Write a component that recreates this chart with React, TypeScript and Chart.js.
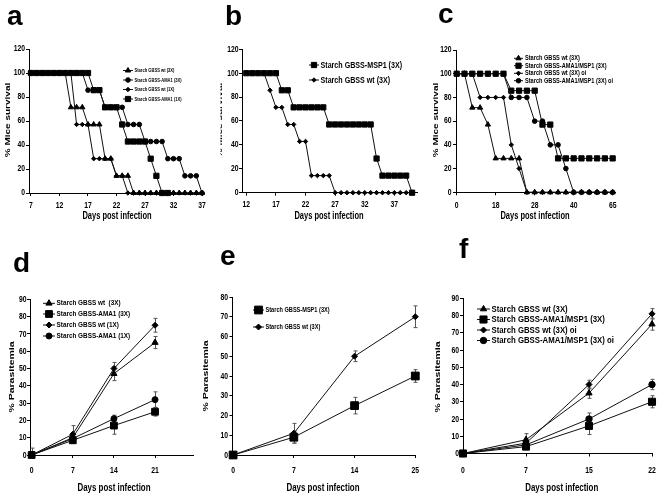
import React, { useEffect, useRef } from "react";
import { Chart, registerables } from "chart.js";

Chart.register(...registerables);

const W = 661;
const H = 496;
const TL = 3;
const FONT = '"Liberation Sans", Arial, Helvetica, sans-serif';

// ---------------- Panel a: survival ----------------
const aDays = [7, 8, 9, 10, 11, 12, 13, 14, 15, 16, 17, 18, 19, 20, 21, 22, 23, 24, 25, 26, 27, 28, 29, 30, 31, 32, 33, 34, 35, 36, 37];
const aLabels = ["Starch GBSS wt (3X)", "Starch GBSS-AMA1 (3X)", "Starch GBSS wt (1X)", "Starch GBSS-AMA1 (1X)"];
const aWt3X = [100, 100, 100, 100, 100, 100, 100, 71.4, 71.4, 71.4, 57.1, 57.1, 57.1, 28.6, 28.6, 14.3, 14.3, 14.3, 0, 0, 0, 0, 0, 0, 0, 0, 0, 0, 0, 0, 0];
const aAma13X = [100, 100, 100, 100, 100, 100, 100, 100, 100, 100, 85.7, 85.7, 85.7, 71.4, 71.4, 71.4, 71.4, 57.1, 57.1, 57.1, 42.9, 42.9, 42.9, 42.9, 28.6, 28.6, 28.6, 14.3, 14.3, 14.3, 0];
const aWt1X = [100, 100, 100, 100, 100, 100, 100, 100, 57.1, 57.1, 57.1, 28.6, 28.6, 28.6, 28.6, 14.3, 14.3, 0, 0, 0, 0, 0, 0, 0, 0, 0, 0, 0, 0, 0, 0];
const aAma11X = [100, 100, 100, 100, 100, 100, 100, 100, 100, 100, 100, 85.7, 85.7, 71.4, 71.4, 71.4, 57.1, 42.9, 42.9, 42.9, 42.9, 28.6, 14.3, 0, 0, null, null, null, null, null, null];
const aXTicks = [7, 12, 17, 22, 27, 32, 37];
const survivalYTicks = [0, 20, 40, 60, 80, 100, 120];

// ---------------- Panel b: survival ----------------
const bDays = [12, 13, 14, 15, 16, 17, 18, 19, 20, 21, 22, 23, 24, 25, 26, 27, 28, 29, 30, 31, 32, 33, 34, 35, 36, 37, 38, 39, 40];
const bLabels = ["Starch GBSS-MSP1 (3X)", "Starch GBSS wt (3X)"];
const bMsp1 = [100, 100, 100, 100, 100, 100, 85.7, 85.7, 71.4, 71.4, 71.4, 71.4, 71.4, 71.4, 57.1, 57.1, 57.1, 57.1, 57.1, 57.1, 57.1, 57.1, 28.6, 14.3, 14.3, 14.3, 14.3, 14.3, 0];
const bWt = [100, 100, 100, 100, 85.7, 71.4, 71.4, 57.1, 57.1, 42.9, 42.9, 14.3, 14.3, 14.3, 14.3, 0, 0, 0, 0, 0, 0, 0, 0, 0, 0, 0, 0, 0, 0];
const bXTicks = [12, 17, 22, 27, 32, 37];

// ---------------- Panel c: survival ----------------
const cIndex = [0, 1, 2, 3, 4, 5, 6, 7, 8, 9, 10, 11, 12, 13, 14, 15, 16, 17, 18, 19, 20];
const cTickIndex = [0, 5, 10, 15, 20];
const cTickLabels = ["0", "18", "28", "40", "65"];
const cLabels = ["Starch GBSS wt (3X)", "Starch GBSS-AMA1/MSP1 (3X)", "Starch GBSS wt (3X) oi", "Starch GBSS-AMA1/MSP1 (3X) oi"];
const cWt3X = [100, 100, 71.4, 71.4, 57.1, 28.6, 28.6, 28.6, 28.6, 0, 0, 0, 0, 0, 0, 0, 0, 0, 0, 0, 0];
const cAmaMsp3X = [100, 100, 100, 100, 100, 100, 100, 85.7, 85.7, 85.7, 85.7, 57.1, 57.1, 28.6, 28.6, 28.6, 28.6, 28.6, 28.6, 28.6, 28.6];
const cWtOi = [100, 100, 100, 80, 80, 80, 80, 40, 20, 0, 0, 0, 0, 0, 0, 0, 0, 0, 0, 0, 0];
const cAmaMspOi = [100, 100, 100, 100, 100, 100, 100, 80, 80, 80, 60, 60, 40, 40, 20, 0, 0, 0, 0, 0, 0];

// ---------------- Panel d: parasitemia ----------------
const dCats = ["0", "7", "14", "21"];
const dLabels = ["Starch GBSS wt  (3X)", "Starch GBSS-AMA1 (3X)", "Starch GBSS wt (1X)", "Starch GBSS-AMA1 (1X)"];
const dWt3X = [0, 10, 47, 65];
const dWt3XErr = [1, 2, 4, 3.5];
const dAma3X = [0, 8.5, 17, 25];
const dAma3XErr = [1, 1.5, 5, 2.5];
const dWt1X = [0, 12, 50, 75];
const dWt1XErr = [4, 5, 3.5, 4];
const dAma1X = [0, 9.5, 21, 32];
const dAma1XErr = [1, 2, 2, 4.5];

// ---------------- Panel e: parasitemia ----------------
const eCats = ["0", "7", "14", "25"];
const eLabels = ["Starch GBSS-MSP1 (3X)", "Starch GBSS wt (3X)"];
const eMsp1 = [0, 9, 25, 40];
const eMsp1Err = [1, 3, 4.2, 3.2];
const eWt = [0, 11, 50, 70];
const eWtErr = [1, 5, 2.7, 5.5];

// ---------------- Panel f: parasitemia ----------------
const fCats = ["0", "7", "15", "22"];
const fLabels = ["Starch GBSS wt (3X)", "Starch GBSS-AMA1/MSP1 (3X)", "Starch GBSS wt (3X) oi", "Starch GBSS-AMA1/MSP1 (3X) oi"];
const fWt3X = [0, 8, 35, 75];
const fWt3XErr = [1, 3.5, 3, 3.5];
const fAmaMsp3X = [0, 4, 16, 30];
const fAmaMsp3XErr = [1, 1.5, 5, 3.5];
const fWtOi = [0, 6, 40, 81];
const fWtOiErr = [0.5, 2, 2.5, 3];
const fAmaMspOi = [0, 5, 20, 40];
const fAmaMspOiErr = [0.5, 1.5, 3.5, 3];

const catIdx = [0, 1, 2, 3];
const d90Ticks = [0, 10, 20, 30, 40, 50, 60, 70, 80, 90];
const e80Ticks = [0, 10, 20, 30, 40, 50, 60, 70, 80];

// ---------------- types / helpers ----------------
type Txt = {
  s: string; x: number; y: number; size: number; k?: number; bold?: boolean;
  align?: CanvasTextAlign; rot?: boolean; clipLeft?: number; baseline?: CanvasTextBaseline;
};
type Series = { label: string; xs: number[]; ys: (number | null)[]; style: string; r: number; err?: number[] };
type Spec = {
  area: { l: number; t: number; r: number; b: number };
  x: { min: number; max: number; ticks: number[]; labels: string[]; labelY: number };
  y: { min: number; max: number; ticks: number[]; labelRight: number };
  tick: { size: number; k: number };
  series: Series[];
  legend: { x0: number; x1: number; tx: number; rows: number[]; size: number; k: number };
  texts: Txt[];
};

function drawText(ctx: CanvasRenderingContext2D, t: Txt) {
  ctx.save();
  if (t.clipLeft !== undefined) {
    ctx.beginPath();
    ctx.rect(t.clipLeft, 0, W, H);
    ctx.clip();
  }
  ctx.translate(t.x, t.y);
  const k = t.k ?? 1;
  if (t.rot) {
    ctx.rotate(-Math.PI / 2);
    ctx.scale(1, k);
  } else {
    ctx.scale(k, 1);
  }
  ctx.font = `${t.bold === false ? "" : "bold "}${t.size}px ${FONT}`;
  ctx.fillStyle = "#000";
  ctx.textAlign = t.align ?? "center";
  ctx.textBaseline = t.baseline ?? "middle";
  ctx.fillText(t.s, 0, 0);
  ctx.restore();
}

function drawMarker(ctx: CanvasRenderingContext2D, style: string, x: number, y: number, r: number) {
  ctx.beginPath();
  if (style === "circle") {
    ctx.arc(x, y, r, 0, Math.PI * 2);
  } else if (style === "rect") {
    const s = r * Math.SQRT1_2;
    ctx.rect(x - s, y - s, 2 * s, 2 * s);
  } else if (style === "rectRot") {
    ctx.moveTo(x - r, y);
    ctx.lineTo(x, y - r);
    ctx.lineTo(x + r, y);
    ctx.lineTo(x, y + r);
    ctx.closePath();
  } else {
    ctx.moveTo(x, y - r);
    ctx.lineTo(x + 0.866 * r, y + 0.5 * r);
    ctx.lineTo(x - 0.866 * r, y + 0.5 * r);
    ctx.closePath();
  }
  ctx.fill();
  ctx.stroke();
}

function buildChart(canvas: HTMLCanvasElement, spec: Spec) {
  const datasets = spec.series.map((s, i) => ({
    label: s.label,
    data: s.xs.map((x, j) => ({ x, y: s.ys[j] })),
    borderColor: "#111",
    backgroundColor: "#000",
    borderWidth: 1,
    pointStyle: s.style,
    pointRadius: s.r,
    pointBackgroundColor: "#000",
    pointBorderColor: "#000",
    pointBorderWidth: 1,
    tension: 0,
    clip: false,
    order: -i,
  }));

  const deco = {
    id: "deco",
    beforeDatasetsDraw(chart: any) {
      const ctx: CanvasRenderingContext2D = chart.ctx;
      const xs = chart.scales.x;
      const ys = chart.scales.y;
      ctx.save();
      ctx.strokeStyle = "#555";
      ctx.lineWidth = 1;
      spec.series.forEach((s) => {
        if (!s.err) return;
        s.xs.forEach((xv, j) => {
          const v = s.ys[j];
          const e = s.err![j];
          if (v === null || !e) return;
          const px = Math.round(xs.getPixelForValue(xv)) + 0.5;
          const top = ys.getPixelForValue(v + e);
          const lowV = v - e;
          const bot = ys.getPixelForValue(Math.max(spec.y.min, lowV));
          ctx.beginPath();
          ctx.moveTo(px, top);
          ctx.lineTo(px, bot);
          ctx.moveTo(px - 2, top);
          ctx.lineTo(px + 2, top);
          if (lowV >= spec.y.min) {
            ctx.moveTo(px - 2, bot);
            ctx.lineTo(px + 2, bot);
          }
          ctx.stroke();
        });
      });
      ctx.restore();
    },
    afterDraw(chart: any) {
      const ctx: CanvasRenderingContext2D = chart.ctx;
      const xs = chart.scales.x;
      const ys = chart.scales.y;
      spec.x.ticks.forEach((v, i) => {
        drawText(ctx, { s: spec.x.labels[i], x: xs.getPixelForValue(v), y: spec.x.labelY, size: spec.tick.size, k: spec.tick.k });
      });
      spec.y.ticks.forEach((v) => {
        drawText(ctx, { s: String(v), x: spec.y.labelRight, y: ys.getPixelForValue(v), size: spec.tick.size, k: spec.tick.k, align: "right" });
      });
      const lg = spec.legend;
      spec.series.forEach((s, i) => {
        const y = lg.rows[i];
        ctx.save();
        ctx.strokeStyle = "#111";
        ctx.lineWidth = 1;
        ctx.beginPath();
        ctx.moveTo(lg.x0, y);
        ctx.lineTo(lg.x1, y);
        ctx.stroke();
        ctx.fillStyle = "#000";
        ctx.strokeStyle = "#000";
        drawMarker(ctx, s.style, (lg.x0 + lg.x1) / 2, y, s.r);
        ctx.restore();
        drawText(ctx, { s: s.label, x: lg.tx, y, size: lg.size, k: lg.k, align: "left" });
      });
      spec.texts.forEach((t) => drawText(ctx, t));
    },
  };

  const a = spec.area;
  return new Chart(canvas, {
    type: "line",
    data: { datasets: datasets as any },
    options: {
      animation: false,
      responsive: false,
      maintainAspectRatio: false,
      devicePixelRatio: 1,
      events: [],
      layout: { padding: { left: a.l - TL, top: a.t, right: W - a.r, bottom: H - a.b - TL } },
      plugins: { legend: { display: false }, tooltip: { enabled: false }, title: { display: false } },
      scales: {
        x: {
          type: "linear",
          min: spec.x.min,
          max: spec.x.max,
          grid: { display: true, drawOnChartArea: false, drawTicks: true, tickLength: TL, color: "#000", lineWidth: 1 },
          border: { display: true, color: "#000", width: 1 },
          ticks: { display: false },
          afterBuildTicks: (s: any) => {
            s.ticks = spec.x.ticks.map((v) => ({ value: v }));
          },
          afterFit: (s: any) => {
            s.height = TL;
          },
        },
        y: {
          type: "linear",
          min: spec.y.min,
          max: spec.y.max,
          grid: { display: true, drawOnChartArea: false, drawTicks: true, tickLength: TL, color: "#000", lineWidth: 1 },
          border: { display: true, color: "#000", width: 1 },
          ticks: { display: false },
          afterBuildTicks: (s: any) => {
            s.ticks = spec.y.ticks.map((v) => ({ value: v }));
          },
          afterFit: (s: any) => {
            s.width = TL;
          },
        },
      } as any,
    },
    plugins: [deco],
  });
}

// ---------------- specs ----------------
const letter = (s: string, x: number, y: number): Txt => ({ s, x, y, size: 28, k: 1, align: "left", baseline: "alphabetic" });

const specA: Spec = {
  area: { l: 29, t: 49, r: 204, b: 193 },
  x: { min: 6.65, max: 37.35, ticks: aXTicks, labels: aXTicks.map(String), labelY: 206 },
  y: { min: 0, max: 120, ticks: survivalYTicks, labelRight: 25 },
  tick: { size: 8.5, k: 0.8 },
  series: [
    { label: aLabels[0], xs: aDays, ys: aWt3X, style: "triangle", r: 3 },
    { label: aLabels[1], xs: aDays, ys: aAma13X, style: "circle", r: 2.3 },
    { label: aLabels[2], xs: aDays, ys: aWt1X, style: "rectRot", r: 2.2 },
    { label: aLabels[3], xs: aDays, ys: aAma11X, style: "rect", r: 3.7 },
  ],
  legend: { x0: 123, x1: 133, tx: 134.5, rows: [70.5, 80, 89.5, 99], size: 6, k: 0.68 },
  texts: [
    letter("a", 7, 25),
    { s: "% Mice survival", x: 8, y: 120, size: 10, k: 0.75, rot: true },
    { s: "Days post infection", x: 117, y: 216, size: 10, k: 0.75 },
  ],
};

const specB: Spec = {
  area: { l: 242, t: 49.3, r: 417, b: 192.7 },
  x: { min: 11.27, max: 40.83, ticks: bXTicks, labels: bXTicks.map(String), labelY: 205 },
  y: { min: 0, max: 120, ticks: survivalYTicks, labelRight: 238.5 },
  tick: { size: 8.5, k: 0.8 },
  series: [
    { label: bLabels[0], xs: bDays, ys: bMsp1, style: "rect", r: 3.7 },
    { label: bLabels[1], xs: bDays, ys: bWt, style: "rectRot", r: 2.2 },
  ],
  legend: { x0: 309, x1: 319, tx: 320.5, rows: [65, 80], size: 9.5, k: 0.75 },
  texts: [
    letter("b", 225, 25),
    { s: "% Mice survival", x: 220, y: 120, size: 10, k: 0.75, rot: true, clipLeft: 220.5 },
    { s: "Days post infection", x: 329, y: 216, size: 10, k: 0.75 },
  ],
};

const specC: Spec = {
  area: { l: 456, t: 50, r: 615, b: 192.3 },
  x: { min: -0.09, max: 20.3, ticks: cTickIndex, labels: cTickLabels, labelY: 205.7 },
  y: { min: 0, max: 120, ticks: survivalYTicks, labelRight: 451.5 },
  tick: { size: 8.5, k: 0.8 },
  series: [
    { label: cLabels[0], xs: cIndex, ys: cWt3X, style: "triangle", r: 3 },
    { label: cLabels[1], xs: cIndex, ys: cAmaMsp3X, style: "rect", r: 3.7 },
    { label: cLabels[2], xs: cIndex, ys: cWtOi, style: "rectRot", r: 2.2 },
    { label: cLabels[3], xs: cIndex, ys: cAmaMspOi, style: "circle", r: 2.3 },
  ],
  legend: { x0: 514, x1: 523, tx: 525, rows: [58.3, 65.7, 73.3, 80.7], size: 7, k: 0.8 },
  texts: [
    letter("c", 438, 23),
    { s: "% Mice survival", x: 436, y: 120, size: 10, k: 0.75, rot: true },
    { s: "Days post infection", x: 535, y: 216, size: 10, k: 0.75 },
  ],
};

const specD: Spec = {
  area: { l: 30, t: 299.3, r: 193.3, b: 455 },
  x: { min: -0.04, max: 3.93, ticks: catIdx, labels: dCats, labelY: 470 },
  y: { min: 0, max: 90, ticks: d90Ticks, labelRight: 26.5 },
  tick: { size: 9.5, k: 0.72 },
  series: [
    { label: dLabels[0], xs: catIdx, ys: dWt3X, style: "triangle", r: 3.6, err: dWt3XErr },
    { label: dLabels[1], xs: catIdx, ys: dAma3X, style: "rect", r: 4.8, err: dAma3XErr },
    { label: dLabels[2], xs: catIdx, ys: dWt1X, style: "rectRot", r: 3, err: dWt1XErr },
    { label: dLabels[3], xs: catIdx, ys: dAma1X, style: "circle", r: 3, err: dAma1XErr },
  ],
  legend: { x0: 43, x1: 55, tx: 56.5, rows: [303.3, 314, 325, 336], size: 7.5, k: 0.85 },
  texts: [
    letter("d", 13, 272),
    { s: "% Parasitemia", x: 12, y: 377, size: 10.5, k: 0.7, rot: true },
    { s: "Days post infection", x: 114, y: 488, size: 11, k: 0.72 },
  ],
};

const specE: Spec = {
  area: { l: 232.5, t: 297, r: 415.3, b: 455 },
  x: { min: -0.01, max: 3.0, ticks: catIdx, labels: eCats, labelY: 470 },
  y: { min: 0, max: 80, ticks: e80Ticks, labelRight: 228 },
  tick: { size: 9.5, k: 0.72 },
  series: [
    { label: eLabels[0], xs: catIdx, ys: eMsp1, style: "rect", r: 5.5, err: eMsp1Err },
    { label: eLabels[1], xs: catIdx, ys: eWt, style: "rectRot", r: 3, err: eWtErr },
  ],
  legend: { x0: 253, x1: 264, tx: 265.5, rows: [310, 327], size: 7, k: 0.8 },
  texts: [
    letter("e", 220, 265),
    { s: "% Parasitemia", x: 206, y: 376, size: 10.5, k: 0.7, rot: true },
    { s: "Days post infection", x: 323, y: 488, size: 11, k: 0.72 },
  ],
};

const specF: Spec = {
  area: { l: 463, t: 298.3, r: 652, b: 453.5 },
  x: { min: 0, max: 3.0, ticks: catIdx, labels: fCats, labelY: 470 },
  y: { min: 0, max: 90, ticks: d90Ticks, labelRight: 459 },
  tick: { size: 9.5, k: 0.72 },
  series: [
    { label: fLabels[0], xs: catIdx, ys: fWt3X, style: "triangle", r: 3.6, err: fWt3XErr },
    { label: fLabels[1], xs: catIdx, ys: fAmaMsp3X, style: "rect", r: 5, err: fAmaMsp3XErr },
    { label: fLabels[2], xs: catIdx, ys: fWtOi, style: "rectRot", r: 3, err: fWtOiErr },
    { label: fLabels[3], xs: catIdx, ys: fAmaMspOi, style: "circle", r: 3.2, err: fAmaMspOiErr },
  ],
  legend: { x0: 477, x1: 490, tx: 491.5, rows: [309, 319.5, 330, 340.5], size: 9.5, k: 0.82 },
  texts: [
    letter("f", 459, 258),
    { s: "% Parasitemia", x: 438, y: 377, size: 10.5, k: 0.7, rot: true },
    { s: "Days post infection", x: 561.7, y: 488, size: 11, k: 0.72 },
  ],
};

const specs: Spec[] = [specA, specB, specC, specD, specE, specF];

function PanelChart({ spec }: { spec: Spec }) {
  const ref = useRef<HTMLCanvasElement>(null);
  useEffect(() => {
    if (!ref.current) return;
    const chart = buildChart(ref.current, spec);
    return () => chart.destroy();
  }, [spec]);
  return (
    <canvas
      ref={ref}
      width={W}
      height={H}
      style={{ position: "absolute", left: 0, top: 0, width: W, height: H }}
    />
  );
}

export default function App() {
  return (
    <div style={{ position: "absolute", left: 0, top: 0, width: W, height: H, background: "#fff", overflow: "hidden" }}>
      {specs.map((s, i) => (
        <PanelChart key={i} spec={s} />
      ))}
    </div>
  );
}
